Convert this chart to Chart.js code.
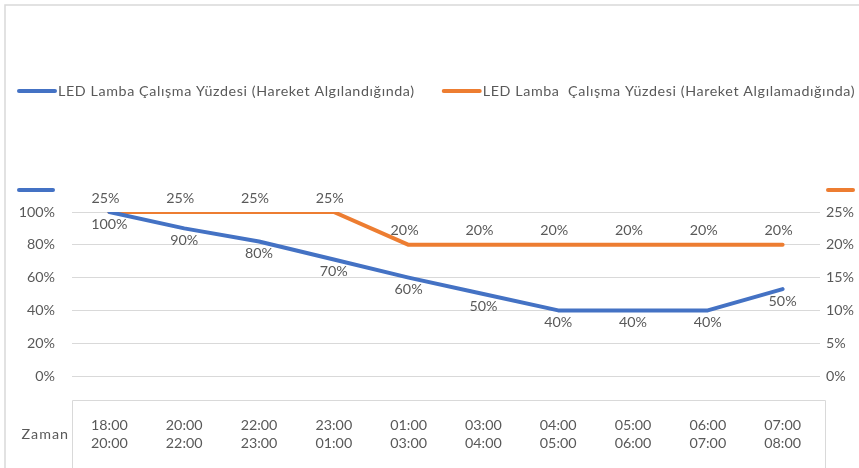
<!DOCTYPE html>
<html>
<head>
<meta charset="utf-8">
<script src="https://cdn.jsdelivr.net/npm/chart.js@4.4.0/dist/chart.umd.min.js"></script>
<style>
  html, body { margin: 0; padding: 0; background: #fff; }
  #wrap { position: relative; width: 859px; height: 468px; overflow: hidden; }
</style>
</head>
<body>
<div id="wrap"><canvas id="ledChart" width="859" height="468"></canvas></div>
<script>
// veriler
const categories = [
    ['18:00', '20:00'], ['20:00', '22:00'], ['22:00', '23:00'], ['23:00', '01:00'],
    ['01:00', '03:00'], ['03:00', '04:00'], ['04:00', '05:00'], ['05:00', '06:00'],
    ['06:00', '07:00'], ['07:00', '08:00']
];
const blueName = 'LED Lamba Çalışma Yüzdesi (Hareket Algılandığında)';
const orangeName = 'LED Lamba  Çalışma Yüzdesi (Hareket Algılamadığında)';
const blueValues = [100, 90, 82, 71, 60, 50, 40, 40, 40, 53];
const blueLabels = ['100%', '90%', '80%', '70%', '60%', '50%', '40%', '40%', '40%', '50%'];
const orangeValues = [25, 25, 25, 25, 20, 20, 20, 20, 20, 20];
const orangeLabels = ['25%', '25%', '25%', '25%', '20%', '20%', '20%', '20%', '20%', '20%'];
const leftTicks = [0, 20, 40, 60, 80, 100];
const rightTicks = [0, 5, 10, 15, 20, 25];
const axisTitle = 'Zaman';

const blue = '#4472c4';
const orange = '#ed7d31';
const gray = '#595959';
const lineGray = '#d9d9d9';
const fontFamily = 'Lato, "Open Sans", sans-serif';
const fontSize = 14.3;

// kenarlık, kutu ve "Zaman" yazısı
const framePlugin = {
    id: 'frame',
    beforeDraw(chart) {
        const ctx = chart.ctx;
        const area = chart.chartArea;
        const x = chart.scales.x;
        ctx.save();
        ctx.strokeStyle = lineGray;
        ctx.lineWidth = 1.5;
        ctx.beginPath();
        ctx.moveTo(5, chart.height);
        ctx.lineTo(5, 5);
        ctx.lineTo(chart.width, 5);
        ctx.stroke();

        ctx.lineWidth = 1;
        const boxTop = Math.round(x.top + 24) + 0.5;
        ctx.beginPath();
        ctx.moveTo(area.left + 0.5, chart.height);
        ctx.lineTo(area.left + 0.5, boxTop);
        ctx.lineTo(area.right + 5.5, boxTop);
        ctx.lineTo(area.right + 5.5, chart.height);
        ctx.stroke();

        ctx.fillStyle = gray;
        ctx.font = fontSize + 'px ' + fontFamily;
        ctx.letterSpacing = '1px';
        ctx.textAlign = 'right';
        ctx.textBaseline = 'middle';
        ctx.fillText(axisTitle, area.left - 3, x.top + 58);
        ctx.restore();
    }
};

// lejant ve eksen işaretleri
const legendPlugin = {
    id: 'ownLegend',
    afterDraw(chart) {
        const ctx = chart.ctx;
        const area = chart.chartArea;
        ctx.save();
        ctx.font = fontSize + 'px ' + fontFamily;
        ctx.letterSpacing = '0.6px';
        ctx.textBaseline = 'middle';
        ctx.textAlign = 'left';
        ctx.lineWidth = 4;
        ctx.lineCap = 'round';

        let cx = 17;
        const ly = 91;
        chart.data.datasets.forEach(ds => {
            ctx.strokeStyle = ds.borderColor;
            ctx.beginPath();
            ctx.moveTo(cx + 2, ly);
            ctx.lineTo(cx + 38, ly);
            ctx.stroke();
            ctx.fillStyle = gray;
            ctx.fillText(ds.label, cx + 41, ly);
            cx += 41 + ctx.measureText(ds.label).width + 27;
        });

        // eksenlerin üstündeki kısa çizgiler
        const my = area.top - 22;
        ctx.strokeStyle = blue;
        ctx.beginPath();
        ctx.moveTo(19, my);
        ctx.lineTo(53, my);
        ctx.stroke();
        ctx.strokeStyle = orange;
        ctx.beginPath();
        ctx.moveTo(area.right + 8, my);
        ctx.lineTo(area.right + 33, my);
        ctx.stroke();
        ctx.restore();
    }
};

// veri etiketleri
const labelPlugin = {
    id: 'pointLabels',
    afterDatasetsDraw(chart) {
        const ctx = chart.ctx;
        ctx.save();
        ctx.font = fontSize + 'px ' + fontFamily;
        ctx.fillStyle = gray;
        ctx.textAlign = 'center';
        ctx.textBaseline = 'middle';
        chart.data.datasets.forEach((ds, i) => {
            const meta = chart.getDatasetMeta(i);
            meta.data.forEach((pt, j) => {
                const dy = ds.labelBelow ? 12 : -14;
                const dx = ds.labelBelow ? 0 : -4;
                ctx.fillText(ds.pointTexts[j], pt.x + dx, pt.y + dy);
            });
        });
        ctx.restore();
    }
};

const ctx = document.getElementById('ledChart').getContext('2d');
const ledChart = new Chart(ctx, {
    type: 'line',
    data: {
        labels: categories,
        datasets: [{
            label: blueName,
            data: blueValues,
            pointTexts: blueLabels,
            labelBelow: true,
            yAxisID: 'y',
            borderColor: blue,
            backgroundColor: blue,
            borderWidth: 4,
            pointRadius: 0,
            tension: 0,
            borderCapStyle: 'round',
            borderJoinStyle: 'round'
        }, {
            label: orangeName,
            data: orangeValues,
            pointTexts: orangeLabels,
            labelBelow: false,
            yAxisID: 'y1',
            borderColor: orange,
            backgroundColor: orange,
            borderWidth: 4,
            pointRadius: 0,
            tension: 0,
            borderCapStyle: 'round',
            borderJoinStyle: 'round'
        }]
    },
    options: {
        responsive: false,
        animation: false,
        devicePixelRatio: 1,
        layout: {
            padding: { top: 212, left: 0, right: 0, bottom: 0 }
        },
        plugins: {
            legend: { display: false },
            tooltip: { enabled: false }
        },
        scales: {
            x: {
                offset: true,
                grid: { display: false, drawTicks: false },
                border: { display: false },
                ticks: {
                    color: gray,
                    padding: 40,
                    maxRotation: 0,
                    autoSkip: false,
                    font: { family: fontFamily, size: fontSize, lineHeight: 1.26 }
                },
                afterFit(scale) { scale.height = 92; }
            },
            y: {
                position: 'left',
                min: 0,
                max: 100,
                afterBuildTicks(scale) { scale.ticks = leftTicks.map(v => ({ value: v })); },
                grid: { color: lineGray, lineWidth: 1, drawTicks: false },
                border: { display: false },
                ticks: {
                    color: gray,
                    padding: 17,
                    callback: v => v + '%',
                    font: { family: fontFamily, size: fontSize }
                },
                afterFit(scale) { scale.width = 72; }
            },
            y1: {
                position: 'right',
                min: 0,
                max: 25,
                afterBuildTicks(scale) { scale.ticks = rightTicks.map(v => ({ value: v })); },
                grid: { display: false, drawTicks: false },
                border: { display: false },
                ticks: {
                    color: gray,
                    padding: 6,
                    callback: v => v + '%',
                    font: { family: fontFamily, size: fontSize }
                },
                afterFit(scale) { scale.width = 39; }
            }
        }
    },
    plugins: [framePlugin, legendPlugin, labelPlugin]
});
</script>
</body>
</html>
